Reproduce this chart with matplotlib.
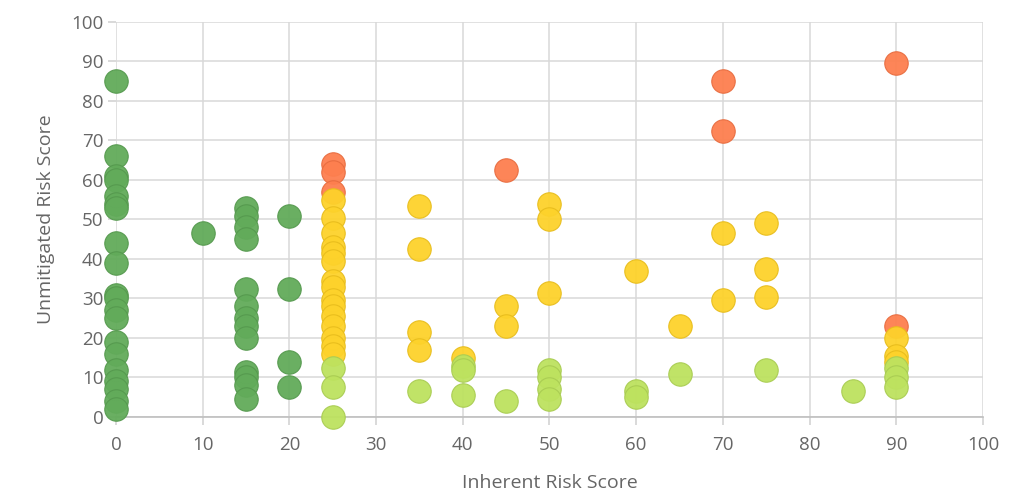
import matplotlib.pyplot as plt

# data, grouped by marker colour
green_x = [0] * 20 + [10] + [15] * 13 + [20] * 4
green_y = [85, 66, 61, 60, 56, 54, 53, 44, 39, 31, 30, 27, 25, 19, 16, 12, 9, 7, 4, 2,
           46.5,
           53, 51, 48, 45, 32.5, 28, 25, 23, 20, 11.5, 10, 8, 4.5,
           51, 32.5, 14, 7.5]

lime_x = [25, 25, 25, 35, 40, 40, 40, 45, 50, 50, 50, 50, 60, 60, 65, 75, 85, 90, 90, 90]
lime_y = [12.5, 7.5, 0, 6.5, 13, 12, 5.5, 4, 12, 10, 7, 4.5, 6.5, 5, 11, 12, 6.5, 12.5, 10, 7.5]

yellow_x = [25] * 15 + [35] * 4 + [40] + [45] * 2 + [50] * 3 + [60, 65] + [70] * 2 + [75] * 3 + [90] * 3
yellow_y = [55, 50.5, 46.5, 43, 41.5, 39.5, 34.5, 33, 29.5, 28, 25.5, 23, 20, 18, 16,
            53.5, 42.5, 21.5, 17,
            15,
            28, 23,
            54, 50, 31.5,
            37, 23,
            46.5, 29.5,
            49, 37.5, 30.5,
            20, 15.5, 14]

red_x = [25, 25, 25, 45, 70, 70, 90, 90]
red_y = [64, 62, 57, 62.5, 85, 72.5, 89.5, 23]

# drawn in this order: red lies under yellow, yellow under lime
series = [
    (red_x, red_y, '#fd7f4f', '#e86c3f'),
    (yellow_x, yellow_y, '#fdd22b', '#e8bd1c'),
    (lime_x, lime_y, '#bde25f', '#a9cc52'),
    (green_x, green_y, '#62ab5a', '#55994e'),
]

plt.rcParams['font.family'] = ['Open Sans', 'DejaVu Sans']

fig = plt.figure(figsize=(10.14, 4.95), dpi=100)
ax = fig.add_axes([0.1144, 0.1576, 0.855, 0.798])

for xs, ys, fc, ec in series:
    ax.scatter(xs, ys, s=285, color=fc, edgecolors=ec, linewidths=0.8,
               alpha=0.95, zorder=3, clip_on=False)

ax.set_xlim(0, 100)
ax.set_ylim(0, 100)
ax.set_xticks(range(0, 101, 10))
ax.set_yticks(range(0, 101, 10))
ax.grid(True, color='#d9d9d9', linewidth=1.1, zorder=0)
ax.set_axisbelow(True)

for side in ['top', 'right', 'left']:
    ax.spines[side].set_visible(False)
ax.spines['bottom'].set_color('#bfbfbf')
ax.spines['bottom'].set_linewidth(1.2)

ax.tick_params(axis='both', colors='#d0d0d0', labelcolor='#666666',
               labelsize=13.5, length=6, width=1.1)
ax.tick_params(axis='y', pad=3)
ax.tick_params(axis='x', pad=8)

ax.set_xlabel('Inherent Risk Score', color='#666666', fontsize=14, labelpad=14)
ax.set_ylabel('Unmitigated Risk Score', color='#666666', fontsize=14, labelpad=12)

fig.savefig('out.png', dpi=100)
